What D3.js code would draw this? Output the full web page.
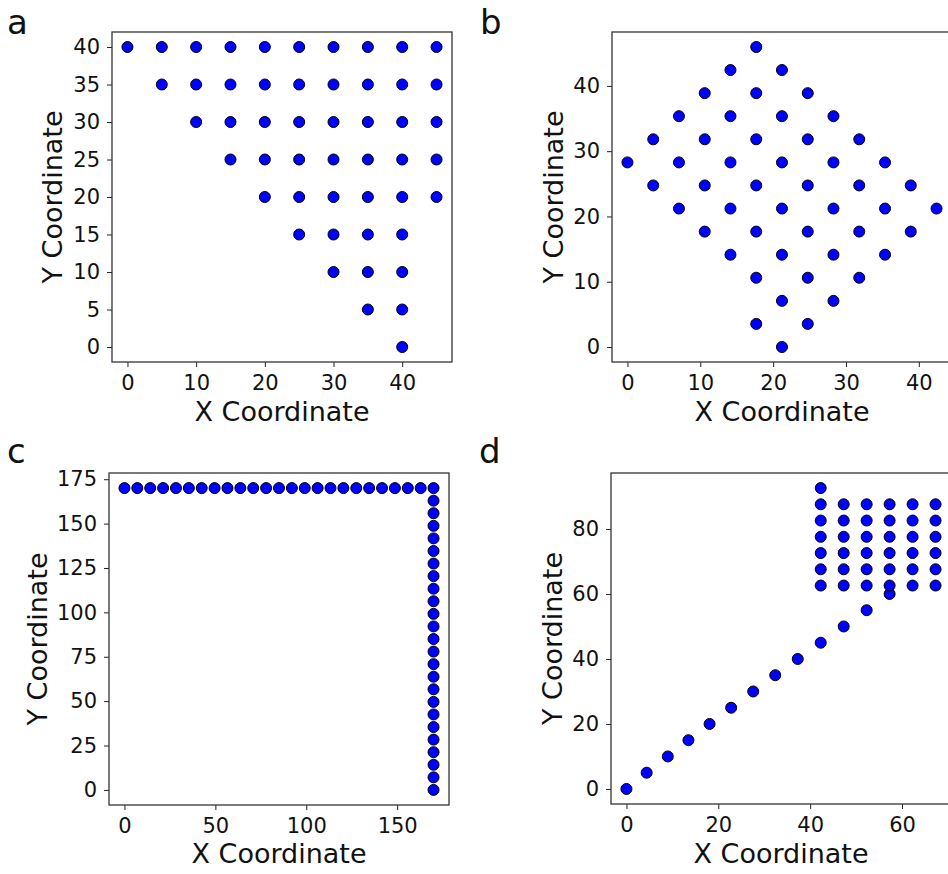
<!DOCTYPE html>
<html>
<head>
<meta charset="utf-8">
<script src="https://cdn.jsdelivr.net/npm/d3@7"></script>
<style>
  body { margin: 0; background: #fff; }
  svg { display: block; font-family: "DejaVu Sans", sans-serif; }
</style>
</head>
<body>
<svg width="948" height="874"></svg>
<script>
// panel a: triangular lattice
var pointsA = [
  [0,40],[5,40],[10,40],[15,40],[20,40],[25,40],[30,40],[35,40],[40,40],[45,40],
  [5,35],[10,35],[15,35],[20,35],[25,35],[30,35],[35,35],[40,35],[45,35],
  [10,30],[15,30],[20,30],[25,30],[30,30],[35,30],[40,30],[45,30],
  [15,25],[20,25],[25,25],[30,25],[35,25],[40,25],[45,25],
  [20,20],[25,20],[30,20],[35,20],[40,20],[45,20],
  [25,15],[30,15],[35,15],[40,15],
  [30,10],[35,10],[40,10],
  [35,5],[40,5],
  [40,0]
]
// panel b: rotated lattice
var pointsB = [
  [21.21,0],
  [17.68,3.54],[24.75,3.54],
  [21.21,7.07],[28.28,7.07],
  [17.68,10.61],[24.75,10.61],[31.82,10.61],
  [14.14,14.14],[21.21,14.14],[28.28,14.14],[35.36,14.14],
  [10.61,17.68],[17.68,17.68],[24.75,17.68],[31.82,17.68],[38.89,17.68],
  [7.07,21.21],[14.14,21.21],[21.21,21.21],[28.28,21.21],[35.36,21.21],[42.43,21.21],
  [3.54,24.75],[10.61,24.75],[17.68,24.75],[24.75,24.75],[31.82,24.75],[38.89,24.75],
  [0,28.28],[7.07,28.28],[14.14,28.28],[21.21,28.28],[28.28,28.28],[35.36,28.28],
  [3.54,31.82],[10.61,31.82],[17.68,31.82],[24.75,31.82],[31.82,31.82],
  [7.07,35.36],[14.14,35.36],[21.21,35.36],[28.28,35.36],
  [10.61,38.89],[17.68,38.89],[24.75,38.89],
  [14.14,42.43],[21.21,42.43],
  [17.68,45.96]
]
// panel c: L shape
var pointsC = [
  [0,170],[7.08,170],[14.17,170],[21.25,170],[28.33,170],[35.42,170],[42.5,170],
  [49.58,170],[56.67,170],[63.75,170],[70.83,170],[77.92,170],[85,170],[92.08,170],
  [99.17,170],[106.25,170],[113.33,170],[120.42,170],[127.5,170],[134.58,170],
  [141.67,170],[148.75,170],[155.83,170],[162.92,170],[170,170],
  [170,162.92],[170,155.83],[170,148.75],[170,141.67],[170,134.58],[170,127.5],
  [170,120.42],[170,113.33],[170,106.25],[170,99.17],[170,92.08],[170,85],
  [170,77.92],[170,70.83],[170,63.75],[170,56.67],[170,49.58],[170,42.5],
  [170,35.42],[170,28.33],[170,21.25],[170,14.17],[170,7.08],[170,0]
]
// panel d: diagonal path into a block
var pointsD = [
  [0,0],[4.4,5],[9.0,10],[13.5,15],[18.1,20],[22.8,25],[27.6,30],[32.4,35],
  [37.3,40],[42.3,45],[47.3,50],[52.3,55],[57.3,60],
  [42.3,92.6],
  [42.3,87.6],[47.3,87.6],[52.3,87.6],[57.3,87.6],[62.3,87.6],[67.3,87.6],
  [42.3,82.6],[47.3,82.6],[52.3,82.6],[57.3,82.6],[62.3,82.6],[67.3,82.6],
  [42.3,77.6],[47.3,77.6],[52.3,77.6],[57.3,77.6],[62.3,77.6],[67.3,77.6],
  [42.3,72.6],[47.3,72.6],[52.3,72.6],[57.3,72.6],[62.3,72.6],[67.3,72.6],
  [42.3,67.6],[47.3,67.6],[52.3,67.6],[57.3,67.6],[62.3,67.6],[67.3,67.6],
  [42.3,62.6],[47.3,62.6],[52.3,62.6],[57.3,62.6],[62.3,62.6],[67.3,62.6]
]

var ticksAX = [0,10,20,30,40], ticksAY = [0,5,10,15,20,25,30,35,40]
var ticksBX = [0,10,20,30,40], ticksBY = [0,10,20,30,40]
var ticksCX = [0,50,100,150], ticksCY = [0,25,50,75,100,125,150,175]
var ticksDX = [0,20,40,60], ticksDY = [0,20,40,60,80]

var svg = d3.select("svg")

function padded(ext) {
    var m = (ext[1] - ext[0]) * 0.05
    return [ext[0] - m, ext[1] + m]
}

function drawPanel(p) {
    var xScale = d3.scaleLinear().domain(padded(d3.extent(p.data, d => d[0]))).range([p.left, p.right])
    var yScale = d3.scaleLinear().domain(padded(d3.extent(p.data, d => d[1]))).range([p.bottom, p.top])

    var xAxis = d3.axisBottom(xScale).tickValues(p.xt).tickSize(5).tickPadding(8.5).tickFormat(d3.format("d"))
    var yAxis = d3.axisLeft(yScale).tickValues(p.yt).tickSize(5).tickPadding(7).tickFormat(d3.format("d"))

    var gx = svg.append("g").attr("transform", "translate(0," + p.bottom + ")").call(xAxis)
    var gy = svg.append("g").attr("transform", "translate(" + p.left + ",0)").call(yAxis)
    ;[gx, gy].forEach(g => {
        g.select(".domain").remove()
        g.selectAll("line").attr("stroke", "#222").attr("stroke-width", 1)
        g.selectAll("text").attr("font-size", 21).attr("font-family", "DejaVu Sans").attr("fill", "#111")
    })

    svg.append("rect")
        .attr("x", p.left).attr("y", p.top)
        .attr("width", p.right - p.left).attr("height", p.bottom - p.top)
        .attr("fill", "none").attr("stroke", "#333").attr("stroke-width", 1.3)

    svg.append("g").selectAll("circle")
        .data(p.data)
        .enter()
        .append("circle")
        .attr("cx", d => xScale(d[0]))
        .attr("cy", d => yScale(d[1]))
        .attr("r", 5.5)
        .attr("fill", "#0000ff")
        .attr("stroke", "#000")
        .attr("stroke-width", 1)

    svg.append("text")
        .attr("x", (p.left + p.right) / 2)
        .attr("y", p.xlabY)
        .attr("text-anchor", "middle")
        .attr("font-size", 27)
        .attr("fill", "#111")
        .text("X Coordinate")

    svg.append("text")
        .attr("transform", "translate(" + p.ylabX + "," + ((p.top + p.bottom) / 2) + ") rotate(-90)")
        .attr("text-anchor", "middle")
        .attr("font-size", 27)
        .attr("fill", "#111")
        .text("Y Coordinate")

    svg.append("text")
        .attr("x", p.letterX).attr("y", p.letterY)
        .attr("font-size", 34)
        .attr("fill", "#111")
        .text(p.letter)
}

drawPanel({data: pointsA, xt: ticksAX, yt: ticksAY, left: 112, right: 452, top: 32, bottom: 362,
           xlabY: 421, ylabX: 62, letter: "a", letterX: 7, letterY: 34})
drawPanel({data: pointsB, xt: ticksBX, yt: ticksBY, left: 612, right: 952, top: 32, bottom: 362,
           xlabY: 421, ylabX: 563, letter: "b", letterX: 480, letterY: 34})
drawPanel({data: pointsC, xt: ticksCX, yt: ticksCY, left: 109, right: 449, top: 473, bottom: 805,
           xlabY: 863, ylabX: 47, letter: "c", letterX: 7, letterY: 463})
drawPanel({data: pointsD, xt: ticksDX, yt: ticksDY, left: 611, right: 951, top: 473, bottom: 804,
           xlabY: 863, ylabX: 562, letter: "d", letterX: 479, letterY: 463})
</script>
</body>
</html>
